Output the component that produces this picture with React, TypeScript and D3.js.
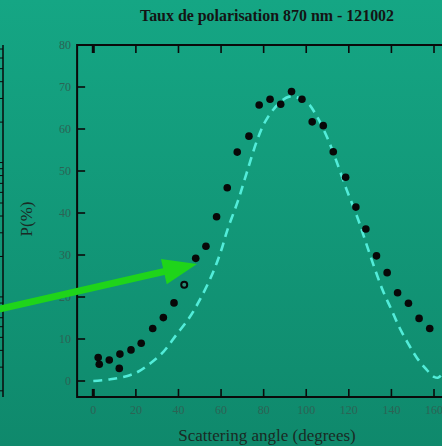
import * as d3 from "d3";
import { useEffect, useRef } from "react";

const W = 442;
const H = 446;

// measured series (scattering angle in degrees, P in %)
const angles = [2.3, 2.8, 7.5, 12.5, 12.2, 17.7, 22.5, 27.9, 32.9, 37.9, 42.7, 48.1, 52.9, 57.9, 62.9, 67.6, 73.1, 77.9, 83, 88, 93.1, 98, 102.8, 108, 112.7, 118.5, 123.3, 128, 133, 138, 142.9, 148, 153, 158];
const pol = [5.6, 4.0, 5.0, 6.4, 3.0, 7.4, 9.0, 12.5, 15.1, 18.6, 22.9, 29.2, 32.1, 39.1, 46.0, 54.5, 58.3, 65.7, 67.1, 65.9, 68.9, 67.1, 61.7, 60.8, 54.6, 48.5, 41.4, 36.2, 29.8, 25.8, 21.0, 18.5, 14.9, 12.5];
const hollowAngle = 42.7;

// model curve (dashed)
const modelAngles = [0, 8, 16, 21, 27, 33, 39, 45, 50, 56, 60, 63, 68, 72, 77, 81, 87, 92, 100, 105, 110, 114, 119, 124, 128, 132, 136, 140, 144, 148, 152, 156, 160, 162, 165, 170];
const modelPol = [0, 0.4, 1.2, 2.2, 4.3, 7, 11, 15, 19.3, 25.6, 31, 36, 43, 49.5, 57.4, 62, 66, 67.7, 66.5, 63, 57.8, 52.6, 45.5, 39, 33, 27, 21.5, 17, 12.5, 8.8, 5.5, 3, 1, 0.8, 2.5, 6];

const xTicks = [0, 20, 40, 60, 80, 100, 120, 140, 160, 180];
const yTicks = [0, 10, 20, 30, 40, 50, 60, 70, 80];

const title = "Taux de polarisation 870 nm - 121002";
const xTitle = "Scattering angle (degrees)";
const yTitle = "P(%)";

export default function App() {
    const ref = useRef<SVGSVGElement>(null);

    useEffect(() => {
        const svg = d3.select(ref.current);
        svg.selectAll("*").remove();

        const defs = svg.append("defs");
        const grad = defs.append("linearGradient")
            .attr("id", "bg")
            .attr("x1", 0).attr("y1", 0).attr("x2", 0).attr("y2", 1);
        grad.append("stop").attr("offset", "0%").attr("stop-color", "#15a684");
        grad.append("stop").attr("offset", "100%").attr("stop-color", "#0f896c");

        svg.append("rect").attr("width", W).attr("height", H).attr("fill", "url(#bg)");

        const x = d3.scaleLinear().domain([0, 160]).range([93.3, 434]);
        const y = d3.scaleLinear().domain([0, 80]).range([381, 45]);

        const x0 = x(-7.6);
        const yb = y(-3.8);
        const yt = y(80);
        const xr = x(190);

        const g = svg.append("g");

        // frame
        g.append("path")
            .attr("d", `M${xr},${yt}H${x0}V${yb}H${xr}`)
            .attr("fill", "none")
            .attr("stroke", "#0a0a0a")
            .attr("stroke-width", 2);

        // x ticks (bottom + top, inward)
        xTicks.forEach(t => {
            const sw = t === 0 ? 3 : 1.6;
            g.append("line").attr("x1", x(t)).attr("x2", x(t)).attr("y1", yb).attr("y2", yb - 8)
                .attr("stroke", "#0a0a0a").attr("stroke-width", sw);
            g.append("line").attr("x1", x(t)).attr("x2", x(t)).attr("y1", yt).attr("y2", yt + 8)
                .attr("stroke", "#0a0a0a").attr("stroke-width", sw);
            g.append("text")
                .attr("x", x(t)).attr("y", yb + 17)
                .attr("text-anchor", "middle")
                .attr("font-family", "Liberation Serif, serif")
                .attr("font-size", 12)
                .attr("fill", "#2c6354")
                .text(t);
        });

        // y ticks
        yTicks.forEach(t => {
            if (t < 80) {
                g.append("line").attr("x1", x0).attr("x2", x0 + 8).attr("y1", y(t)).attr("y2", y(t))
                    .attr("stroke", "#0a0a0a").attr("stroke-width", 1.6);
            }
            g.append("text")
                .attr("x", x0 - 6).attr("y", y(t) + 4)
                .attr("text-anchor", "end")
                .attr("font-family", "Liberation Serif, serif")
                .attr("font-size", 12)
                .attr("fill", "#2c6354")
                .text(t);
        });

        // model curve
        const line = d3.line<number>()
            .x((_, i) => x(modelAngles[i]))
            .y(d => y(d))
            .curve(d3.curveCatmullRom);
        g.append("path")
            .attr("d", line(modelPol))
            .attr("fill", "none")
            .attr("stroke", "#52ecd9")
            .attr("stroke-width", 2.6)
            .attr("stroke-dasharray", "9,6");

        // measurements
        g.selectAll(".pt")
            .data(angles)
            .enter()
            .append("circle")
            .attr("class", "pt")
            .attr("cx", d => x(d))
            .attr("cy", (_, i) => y(pol[i]))
            .attr("r", d => (d === hollowAngle ? 3 : 3.8))
            .attr("fill", d => (d === hollowAngle ? "#2a8f76" : "#080808"))
            .attr("stroke", "#080808")
            .attr("stroke-width", d => (d === hollowAngle ? 2 : 0));

        // partial neighbouring chart edge (log axis)
        const yl = d3.scaleLog().domain([0.18, 75]).range([yb, yt]);
        svg.append("line").attr("x1", 3).attr("x2", 3).attr("y1", yt).attr("y2", yb)
            .attr("stroke", "#0a0a0a").attr("stroke-width", 1.5);
        yl.ticks().forEach(t => {
            svg.append("line").attr("x1", 0).attr("x2", 3).attr("y1", yl(t)).attr("y2", yl(t))
                .attr("stroke", "#0a0a0a").attr("stroke-width", 1);
        });

        // green arrow
        const ax0 = 0, ay0 = 309, ax1 = 197, ay1 = 264;
        const ang = Math.atan2(ay1 - ay0, ax1 - ax0);
        const hl = 34, hw = 13;
        const bx = ax1 - hl * Math.cos(ang), by = ay1 - hl * Math.sin(ang);
        const nx = -Math.sin(ang), ny = Math.cos(ang);
        svg.append("line")
            .attr("x1", ax0 - 5).attr("y1", ay0 - 5 * Math.tan(ang))
            .attr("x2", bx + 2).attr("y2", by + 2 * Math.tan(ang))
            .attr("stroke", "#1fd41a").attr("stroke-width", 7);
        svg.append("path")
            .attr("d", `M${ax1},${ay1}L${bx + nx * hw},${by + ny * hw}L${bx - nx * hw},${by - ny * hw}Z`)
            .attr("fill", "#1fd41a");

        // titles
        svg.append("text")
            .attr("x", 267).attr("y", 21)
            .attr("text-anchor", "middle")
            .attr("font-family", "Liberation Serif, serif")
            .attr("font-weight", "bold")
            .attr("font-size", 16)
            .attr("textLength", 254)
            .attr("lengthAdjust", "spacingAndGlyphs")
            .attr("fill", "#141414")
            .text(title);

        svg.append("text")
            .attr("x", 267).attr("y", 441)
            .attr("text-anchor", "middle")
            .attr("font-family", "Liberation Serif, serif")
            .attr("font-size", 17)
            .attr("fill", "#1a2a24")
            .text(xTitle);

        svg.append("text")
            .attr("transform", `translate(32,219) rotate(-90)`)
            .attr("text-anchor", "middle")
            .attr("font-family", "Liberation Serif, serif")
            .attr("font-size", 17)
            .attr("fill", "#1a2a24")
            .text(yTitle);
    }, []);

    return (
        <div style={{ position: "fixed", left: 0, top: 0 }}>
            <svg ref={ref} width={W} height={H} style={{ display: "block" }} />
        </div>
    );
}
